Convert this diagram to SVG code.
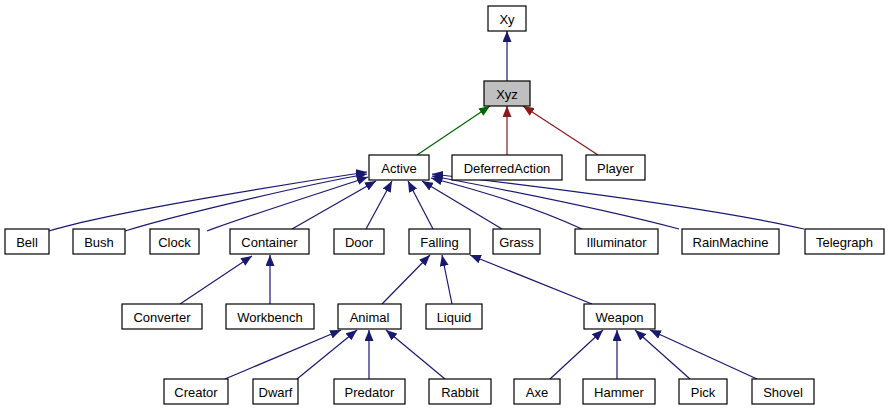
<svg xmlns="http://www.w3.org/2000/svg" width="889" height="411" viewBox="0 0 889 411">
<style>
.n rect{fill:#ffffff;stroke:#000000;stroke-width:1.2}
.n text{font-family:"Liberation Sans",Arial,sans-serif;font-size:13px;text-anchor:middle;fill:#000000}
.e path{fill:none;stroke-width:1.2}
.b{stroke:#191970}
.g{stroke:#006400}
.r{stroke:#8b1a1a}
</style>
<defs>
<marker id="ab" viewBox="0 0 11 9" refX="11" refY="4.5" markerWidth="11" markerHeight="9" markerUnits="userSpaceOnUse" orient="auto"><path d="M0,0 L11,4.5 L0,9 z" fill="#191970"/></marker>
<marker id="ag" viewBox="0 0 11 9" refX="11" refY="4.5" markerWidth="11" markerHeight="9" markerUnits="userSpaceOnUse" orient="auto"><path d="M0,0 L11,4.5 L0,9 z" fill="#006400"/></marker>
<marker id="ar" viewBox="0 0 11 9" refX="11" refY="4.5" markerWidth="11" markerHeight="9" markerUnits="userSpaceOnUse" orient="auto"><path d="M0,0 L11,4.5 L0,9 z" fill="#8b1a1a"/></marker>
</defs>
<rect width="889" height="411" fill="#ffffff"/>
<g id="edges" class="e">
<path class="b" d="M507,81 L507,31" marker-end="url(#ab)"/>
<path class="g" d="M417,155 L490,106" marker-end="url(#ag)"/>
<path class="r" d="M507,155 L507,106" marker-end="url(#ar)"/>
<path class="r" d="M598,155 L523,106" marker-end="url(#ar)"/>
<path class="b" d="M49,231 C110,212 300,182 367,172" marker-end="url(#ab)"/>
<path class="b" d="M125,231 C180,214 310,184 367,174" marker-end="url(#ab)"/>
<path class="b" d="M207,231 C250,215 330,190 368,177" marker-end="url(#ab)"/>
<path class="b" d="M292,229 L376,181" marker-end="url(#ab)"/>
<path class="b" d="M366,229 L392,181" marker-end="url(#ab)"/>
<path class="b" d="M433,229 L408,181" marker-end="url(#ab)"/>
<path class="b" d="M502,229 L422,181" marker-end="url(#ab)"/>
<path class="b" d="M582,229 C530,205 470,188 431,178" marker-end="url(#ab)"/>
<path class="b" d="M679,229 C600,208 480,185 432,176" marker-end="url(#ab)"/>
<path class="b" d="M804,229 C700,205 500,182 432,174" marker-end="url(#ab)"/>
<path class="b" d="M180,304 L252,256" marker-end="url(#ab)"/>
<path class="b" d="M270,304 L270,255" marker-end="url(#ab)"/>
<path class="b" d="M382,304 L430,255" marker-end="url(#ab)"/>
<path class="b" d="M452,304 L442,255" marker-end="url(#ab)"/>
<path class="b" d="M592,304 L470,255" marker-end="url(#ab)"/>
<path class="b" d="M225,379 L341,330" marker-end="url(#ab)"/>
<path class="b" d="M297,379 L357,330" marker-end="url(#ab)"/>
<path class="b" d="M369,379 L369,330" marker-end="url(#ab)"/>
<path class="b" d="M445,379 L386,330" marker-end="url(#ab)"/>
<path class="b" d="M550,379 L603,330" marker-end="url(#ab)"/>
<path class="b" d="M617,379 L617,330" marker-end="url(#ab)"/>
<path class="b" d="M690,379 L635,330" marker-end="url(#ab)"/>
<path class="b" d="M757,379 L650,330" marker-end="url(#ab)"/>
</g>
<g id="Xy" class="n"><rect x="488" y="6" width="38" height="25"/><text x="507" y="23.5">Xy</text></g>
<g id="Xyz" class="n"><rect x="484" y="81" width="46" height="25" style="fill:#bfbfbf"/><text x="507" y="98.5">Xyz</text></g>
<g id="Active" class="n"><rect x="369" y="155" width="60" height="25"/><text x="399" y="172.5">Active</text></g>
<g id="DeferredAction" class="n"><rect x="452" y="155" width="110" height="25"/><text x="507" y="172.5">DeferredAction</text></g>
<g id="Player" class="n"><rect x="586" y="155" width="59" height="25"/><text x="615.5" y="172.5">Player</text></g>
<g id="Bell" class="n"><rect x="5" y="229" width="44" height="25"/><text x="27" y="246.5">Bell</text></g>
<g id="Bush" class="n"><rect x="73" y="229" width="52" height="25"/><text x="99" y="246.5">Bush</text></g>
<g id="Clock" class="n"><rect x="150" y="229" width="49" height="25"/><text x="174.5" y="246.5">Clock</text></g>
<g id="Container" class="n"><rect x="230" y="229" width="79" height="25"/><text x="269.5" y="246.5">Container</text></g>
<g id="Door" class="n"><rect x="334" y="229" width="50" height="25"/><text x="359" y="246.5">Door</text></g>
<g id="Falling" class="n"><rect x="409" y="229" width="61" height="25"/><text x="439.5" y="246.5">Falling</text></g>
<g id="Grass" class="n"><rect x="493" y="229" width="47" height="25"/><text x="516.5" y="246.5">Grass</text></g>
<g id="Illuminator" class="n"><rect x="575" y="229" width="83" height="25"/><text x="616.5" y="246.5">Illuminator</text></g>
<g id="RainMachine" class="n"><rect x="682" y="229" width="97" height="25"/><text x="730.5" y="246.5">RainMachine</text></g>
<g id="Telegraph" class="n"><rect x="805" y="229" width="79" height="25"/><text x="844.5" y="246.5">Telegraph</text></g>
<g id="Converter" class="n"><rect x="122" y="304" width="80" height="25"/><text x="162" y="321.5">Converter</text></g>
<g id="Workbench" class="n"><rect x="226" y="304" width="88" height="25"/><text x="270" y="321.5">Workbench</text></g>
<g id="Animal" class="n"><rect x="338" y="304" width="63" height="25"/><text x="369.5" y="321.5">Animal</text></g>
<g id="Liquid" class="n"><rect x="426" y="304" width="56" height="25"/><text x="454" y="321.5">Liquid</text></g>
<g id="Weapon" class="n"><rect x="584" y="304" width="71" height="25"/><text x="619.5" y="321.5">Weapon</text></g>
<g id="Creator" class="n"><rect x="164" y="379" width="64" height="25"/><text x="196" y="396.5">Creator</text></g>
<g id="Dwarf" class="n"><rect x="253" y="379" width="45" height="25"/><text x="275.5" y="396.5">Dwarf</text></g>
<g id="Predator" class="n"><rect x="334" y="379" width="71" height="25"/><text x="369.5" y="396.5">Predator</text></g>
<g id="Rabbit" class="n"><rect x="429" y="379" width="62" height="25"/><text x="460" y="396.5">Rabbit</text></g>
<g id="Axe" class="n"><rect x="514" y="379" width="46" height="25"/><text x="537" y="396.5">Axe</text></g>
<g id="Hammer" class="n"><rect x="583" y="379" width="72" height="25"/><text x="619" y="396.5">Hammer</text></g>
<g id="Pick" class="n"><rect x="679" y="379" width="48" height="25"/><text x="703" y="396.5">Pick</text></g>
<g id="Shovel" class="n"><rect x="752" y="379" width="62" height="25"/><text x="783" y="396.5">Shovel</text></g>
</svg>
